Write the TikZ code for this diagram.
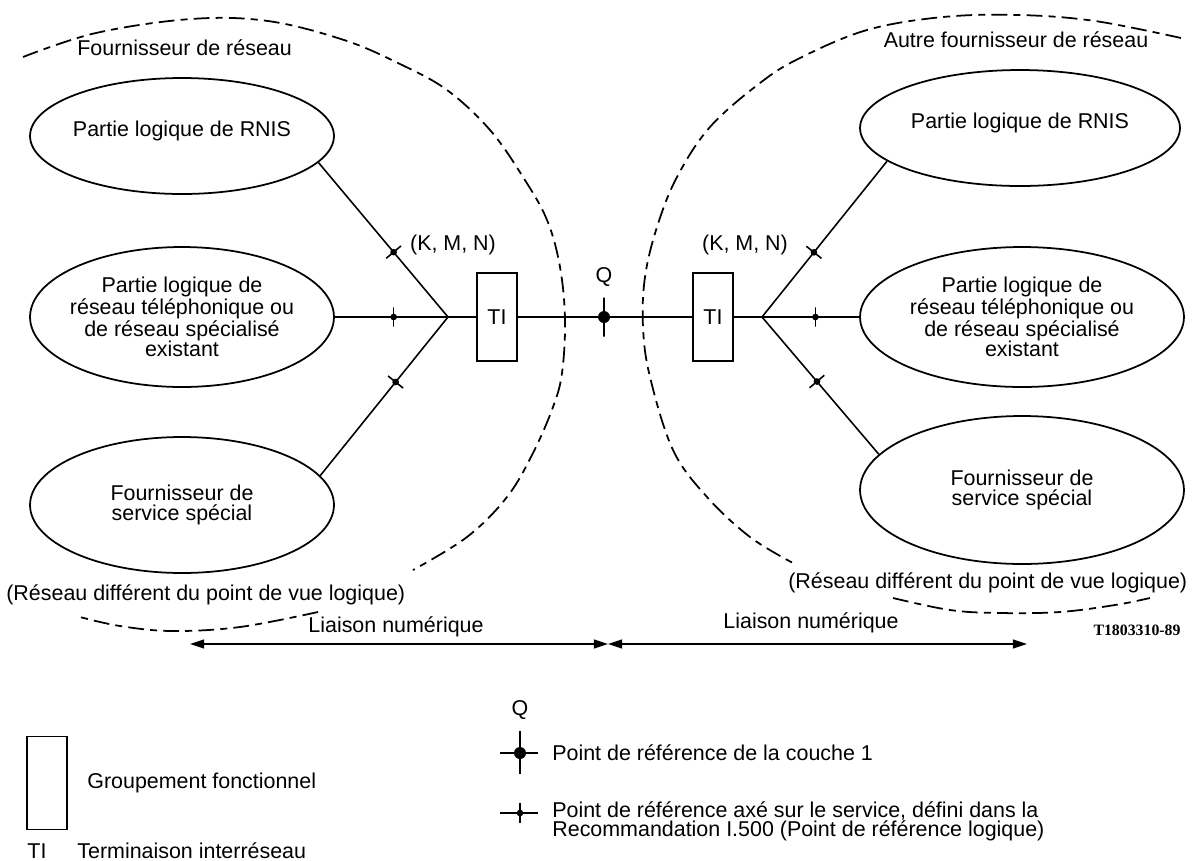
\documentclass[tikz,border=0pt]{standalone}
\usepackage{fontspec}
\setmainfont{Liberation Sans}
\newfontfamily\codefont{Liberation Serif}
\usetikzlibrary{arrows.meta,shapes.geometric,calc}
\begin{document}
\begin{tikzpicture}[x=0.02cm,y=-0.02cm,
  every node/.style={font=\fontsize{12.2}{11.5}\selectfont, inner sep=0pt},
  ell/.style={draw, ellipse, line width=1pt, inner sep=0pt},
  txt/.style={align=center},
  conn/.style={line width=0.9pt},
  tibox/.style={draw, rectangle, line width=1.5pt, minimum width=0.8cm, minimum height=1.76cm},
  dashline/.style={line width=1pt, dash pattern=on 9pt off 3.5pt on 4pt off 3.5pt},
  svtick/.style={draw, rectangle, minimum width=0pt, minimum height=11pt, line width=0.9pt, sloped},
  svdot/.style={circle, fill, minimum size=3.8pt},
  qdot/.style={circle, fill, minimum size=0.24cm},
  arr/.style={line width=0.9pt, {Triangle[length=8pt,width=5pt]}-{Triangle[length=8pt,width=5pt]}}
]
\useasboundingbox (0,0) rectangle (1197,860);

% ---- dashed domain boundaries
\draw[dashline] plot[smooth, tension=0.6] coordinates {(23,57) (96,33) (191,19) (268,21) (344,40) (400,64) (447,90) (490,130) (523,177) (547,220) (560,267) (565,320) (562,373) (553,407) (533,453) (507,497) (467,537) (413,570)};
\draw[dashline] plot[smooth, tension=0.6] coordinates {(318,612) (240,627) (172,631) (120,626) (80,617)};
\draw[dashline] plot[smooth, tension=0.6] coordinates {(1181,38) (1095,21) (1019,15) (943,17) (867,30) (800,58) (760,83) (710,127) (677,177) (657,227) (645,277) (643,327) (650,377) (673,450) (707,497) (750,537) (793,563)};
\draw[dashline] plot[smooth, tension=0.6] coordinates {(893,598) (950,610) (1000,613) (1060,612) (1115,605) (1150,598)};

\node[anchor=west] (provL) at (77,48) {Fournisseur de réseau};
\node (provR) at (1016,40) {Autre fournisseur de réseau};
\node[anchor=west] (diffL) at (6,595) {(Réseau différent du point de vue logique)};
\node[anchor=west] (diffR) at (788,583) {(Réseau différent du point de vue logique)};

% ---- left ellipses
\node[ell, minimum width=6.08cm, minimum height=2.32cm] (rnisL) at (182,136) {};
\node[txt] (rnisLt) at (182,131) {Partie logique de RNIS};
\node[ell, minimum width=6.08cm, minimum height=2.8cm] (telL) at (182,317) {};
\node[txt] (telLt) at (telL) {Partie logique de\\réseau téléphonique ou\\de réseau spécialisé\\existant};
\node[ell, minimum width=6.08cm, minimum height=2.72cm] (svcL) at (182,505) {};
\node[txt] (svcLt) at (svcL) {Fournisseur de\\service spécial};

% ---- right ellipses
\node[ell, minimum width=6.4cm, minimum height=2.32cm] (rnisR) at (1020,128) {};
\node[txt] (rnisRt) at (1020,123) {Partie logique de RNIS};
\node[ell, minimum width=6.48cm, minimum height=2.8cm] (telR) at (1022,317) {};
\node[txt] (telRt) at (telR) {Partie logique de\\réseau téléphonique ou\\de réseau spécialisé\\existant};
\node[ell, minimum width=6.48cm, minimum height=2.96cm] (svcR) at (1022,490) {};
\node[txt] (svcRt) at (svcR) {Fournisseur de\\service spécial};

% ---- TI boxes and junctions
\node[tibox] (tiL) at (497,317) {TI};
\node[tibox] (tiR) at (713,317) {TI};
\coordinate (jL) at (448,317);
\coordinate (jR) at (762,317);

\draw[conn] (tiL.west) -- (jL);
\draw[conn] (tiR.east) -- (jR);
\draw[conn] (jL) -- (rnisL.-11.6) node[pos=0.42, svtick] (t1) {} node[pos=0.42, svdot] (t1d) {};
\draw[conn] (jL) -- (telL.east) node[pos=0.48, svtick] (t2) {} node[pos=0.48, svdot] (t2d) {};
\draw[conn] (jL) -- (svcL.12.4) node[pos=0.41, svtick] (t3) {} node[pos=0.41, svdot] (t3d) {};
\draw[conn] (jR) -- (rnisR.194.9) node[pos=0.415, svtick] (t4) {} node[pos=0.415, svdot] (t4d) {};
\draw[conn] (jR) -- (telR.west) node[pos=0.55, svtick] (t5) {} node[pos=0.55, svdot] (t5d) {};
\draw[conn] (jR) -- (svcR.166.3) node[pos=0.47, svtick] (t6) {} node[pos=0.47, svdot] (t6d) {};

\node (kmnL) at (453,245) {(K, M, N)};
\node (kmnR) at (745,245) {(K, M, N)};

% ---- Q point
\draw[conn] (tiL) -- (tiR);
\node[qdot] (Q) at (604,317) {};
\node[draw, rectangle, minimum width=0pt, minimum height=0.78cm, line width=1pt] (Qbar) at (Q) {};
\node (Qlab) at (604,277) {Q};

% ---- digital links
\coordinate (lkL) at (190,644);
\coordinate (lkM) at (608,644);
\coordinate (lkR) at (1027,644);
\draw[arr] (lkL) -- (lkM);
\draw[arr] (lkM) -- (lkR);
\node (lkLt) at (396,627) {Liaison numérique};
\node (lkRt) at (811,623) {Liaison numérique};
\node[font={\codefont\bfseries\fontsize{9}{9}\selectfont}] (code) at (1137,630) {T1803310-89};

% ---- legend
\node[draw, rectangle, line width=0.8pt, minimum width=0.8cm, minimum height=1.86cm] (lgbox) at (47,783) {};
\node[anchor=west] (lgboxt) at (87,783) {Groupement fonctionnel};
\node[anchor=base] (lgti) at (37,858) {TI};
\node[anchor=base west] (lgtit) at (77,858) {Terminaison interréseau};

\node (lgQ) at (520,710) {Q};
\node[qdot] (lgQd) at (520,753) {};
\coordinate (lgQa) at (500,753);
\coordinate (lgQb) at (538,753);
\coordinate (lgQc) at (520,731);
\coordinate (lgQe) at (520,774);
\draw[conn] (lgQa) -- (lgQb);
\draw[conn] (lgQc) -- (lgQe);
\node[anchor=west] (lgQt) at (552,753) {Point de référence de la couche 1};

\node[svdot] (lgSd) at (520,813) {};
\coordinate (lgSa) at (500,813);
\coordinate (lgSb) at (538,813);
\coordinate (lgSc) at (520,803);
\coordinate (lgSe) at (520,823);
\draw[conn] (lgSa) -- (lgSb);
\draw[conn] (lgSc) -- (lgSe);
\node[anchor=west, align=left, font=\fontsize{12.2}{11}\selectfont] (lgSt) at (552,821) {Point de référence axé sur le service, défini dans la\\Recommandation I.500 (Point de référence logique)};
\end{tikzpicture}
\end{document}
